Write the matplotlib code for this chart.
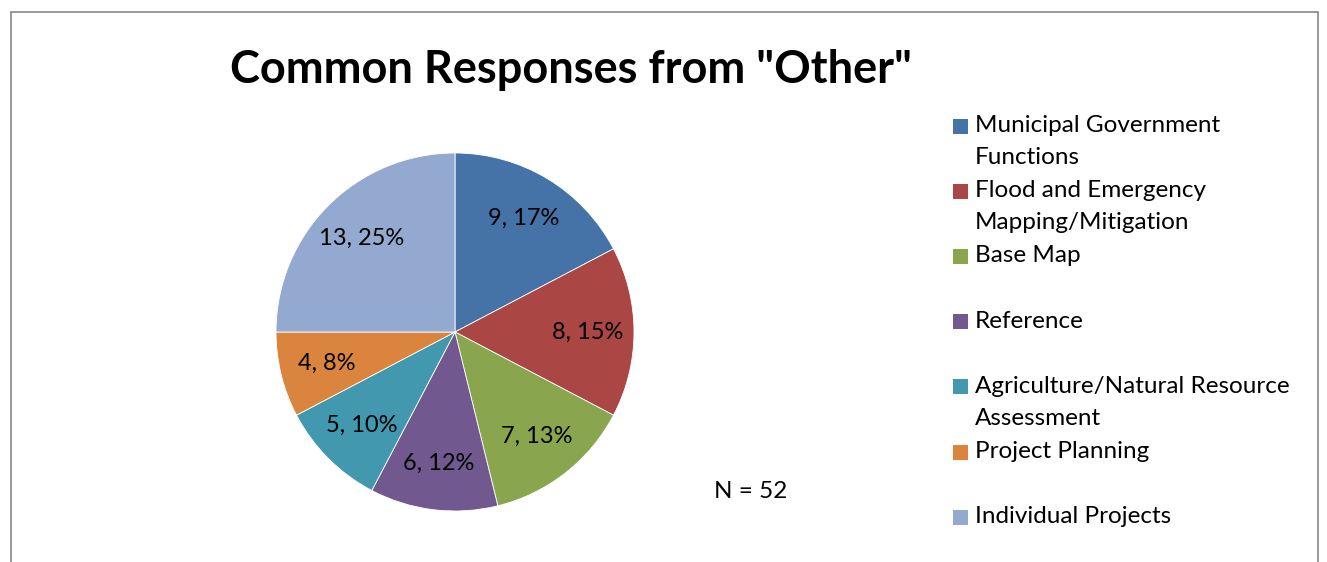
import matplotlib
matplotlib.use("Agg")
import matplotlib.pyplot as plt
from matplotlib.patches import Rectangle

# dados
categorias = ["Municipal Government\nFunctions", "Flood and Emergency\nMapping/Mitigation",
              "Base Map", "Reference", "Agriculture/Natural Resource\nAssessment",
              "Project Planning", "Individual Projects"]
valores = [9, 8, 7, 6, 5, 4, 13]
cores = ["#4572A7", "#AA4643", "#89A54E", "#71588F", "#4198AF", "#DB843D", "#93A9CF"]
total = sum(valores)

plt.rcParams["font.family"] = ["Lato", "DejaVu Sans"]

W, H = 1327, 562
fig = plt.figure(figsize=(W / 100, H / 100), dpi=100)

# moldura do grafico
fig.add_artist(Rectangle((11 / W, -0.1), (1318 - 11) / W, (H - 12) / H + 0.1,
                         transform=fig.transFigure, fill=False,
                         edgecolor="#888888", linewidth=1.2))

# pizza
cx, cy, r = 455, 332, 179
ax = fig.add_axes([(cx - r) / W, (H - cy - r) / H, 2 * r / W, 2 * r / H])
fatias, textos, autotextos = ax.pie(
    valores, colors=cores, startangle=90, counterclock=False, radius=1,
    autopct=lambda p: "%d, %d%%" % (round(p * total / 100), round(p)),
    pctdistance=0.74, wedgeprops=dict(edgecolor="white", linewidth=0.6))
for t in autotextos:
    t.set_fontsize(17)
    t.set_color("black")
ax.set_xlim(-1, 1)
ax.set_ylim(-1, 1)
ax.set_aspect("equal")
ax.axis("off")

fig.text(571 / W, 1 - 70 / H, 'Common Responses from "Other"', ha="center", va="center",
         fontsize=32.5, fontweight="bold")
fig.text(751 / W, 1 - 492 / H, "N = 52", ha="center", va="center", fontsize=17.5)

# legenda manual
for i, (nome, cor) in enumerate(zip(categorias, cores)):
    y = 126 + i * 65.2
    fig.add_artist(Rectangle((953 / W, 1 - (y + 7.5) / H), 15 / W, 15 / H,
                             transform=fig.transFigure, facecolor=cor, edgecolor="none"))
    fig.text(975 / W, 1 - (y - 11) / H, nome, ha="left", va="top", fontsize=17.5,
             linespacing=1.65)

fig.savefig("out.png", dpi=100)
